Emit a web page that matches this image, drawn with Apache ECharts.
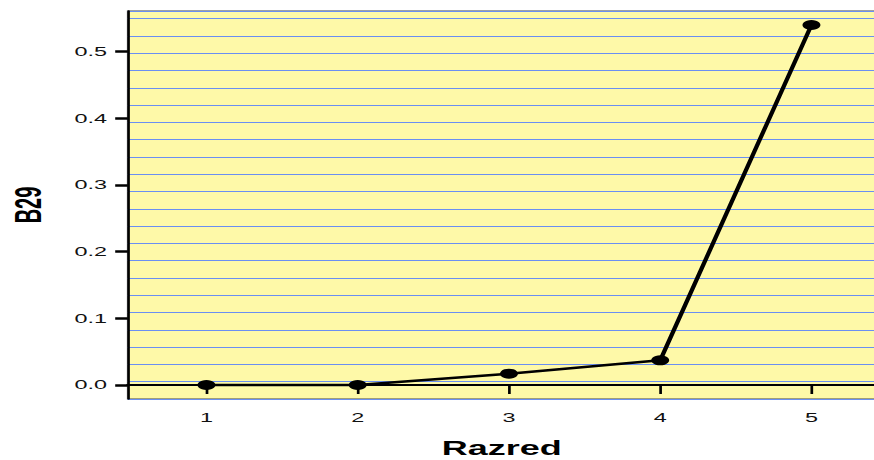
<!DOCTYPE html>
<html>
<head>
<meta charset="utf-8">
<script src="https://cdn.jsdelivr.net/npm/echarts@6/dist/echarts.min.js"></script>
<style>
html,body{margin:0;padding:0;background:#fff;overflow:hidden;width:874px;height:460px;}
#wrap{width:874px;height:460px;overflow:hidden;position:relative;}
#chart{width:486px;height:460px;transform:scaleX(1.8);transform-origin:0 0;position:absolute;left:0;top:0;}
</style>
</head>
<body>
<div id="wrap"><div id="chart"></div></div>
<script>
// Data
const razred = [1, 2, 3, 4, 5];
const b29 = [0.0, 0.0, 0.017, 0.037, 0.54];
const xTicks = [1, 2, 3, 4, 5];
const yTicks = [0, 0.1, 0.2, 0.3, 0.4, 0.5];
const xTitle = 'Razred';
const yTitle = 'B29';

const chart = echarts.init(document.getElementById('chart'), null, {renderer: 'svg'});
const font = 'Liberation Sans, Arial, sans-serif';
chart.setOption({
  animation: false,
  grid: {left: 71, top: 11, width: 423.5, height: 388, show: true,
         backgroundColor: '#fef9a8', borderColor: '#444', borderWidth: 1,
         containLabel: false, outerBoundsMode: 'none'},
  xAxis: {
    type: 'value', min: 0.48, max: 5.52,
    name: xTitle, nameLocation: 'middle', nameGap: 40,
    nameTextStyle: {fontFamily: font, fontWeight: 'bold', fontSize: 20, lineHeight: 18, color: '#000', padding: [0, 8, 0, 0]},
    axisLine: {show: true, lineStyle: {color: '#000', width: 2}},
    axisTick: {show: true, length: 9, lineStyle: {color: '#000', width: 1.5}, customValues: xTicks},
    axisLabel: {margin: 12, fontFamily: font, fontSize: 13, color: '#111', customValues: xTicks,
                formatter: v => String(v)},
    splitLine: {show: false}
  },
  yAxis: [{
    type: 'value', min: -0.021, max: 0.561,
    name: yTitle, nameLocation: 'middle', nameRotate: 90, nameGap: 45,
    nameTextStyle: {fontFamily: font, fontWeight: 'bold', fontSize: 20, color: '#000'},
    axisLine: {show: true, lineStyle: {color: '#000', width: 1.3}},
    axisTick: {show: true, length: 7, lineStyle: {color: '#000', width: 2.5}, customValues: yTicks},
    axisLabel: {margin: 11.5, fontFamily: font, fontSize: 13, color: '#111', customValues: yTicks,
                formatter: v => Number(v).toFixed(1)},
    splitLine: {show: false}
  }, {
    type: 'value', min: 0, max: 22.446, interval: 1, position: 'right',
    axisLine: {show: false}, axisTick: {show: false}, axisLabel: {show: false},
    splitLine: {show: true, lineStyle: {color: '#6a8ff2', width: 1}}
  }],
  series: [{
    type: 'line',
    data: razred.map((x, i) => [x, b29[i]]),
    yAxisIndex: 0,
    symbol: 'circle', symbolSize: 10,
    lineStyle: {color: '#000', width: 2.5},
    itemStyle: {color: '#000'},
    z: 5
  }]
});
</script>
</body>
</html>
